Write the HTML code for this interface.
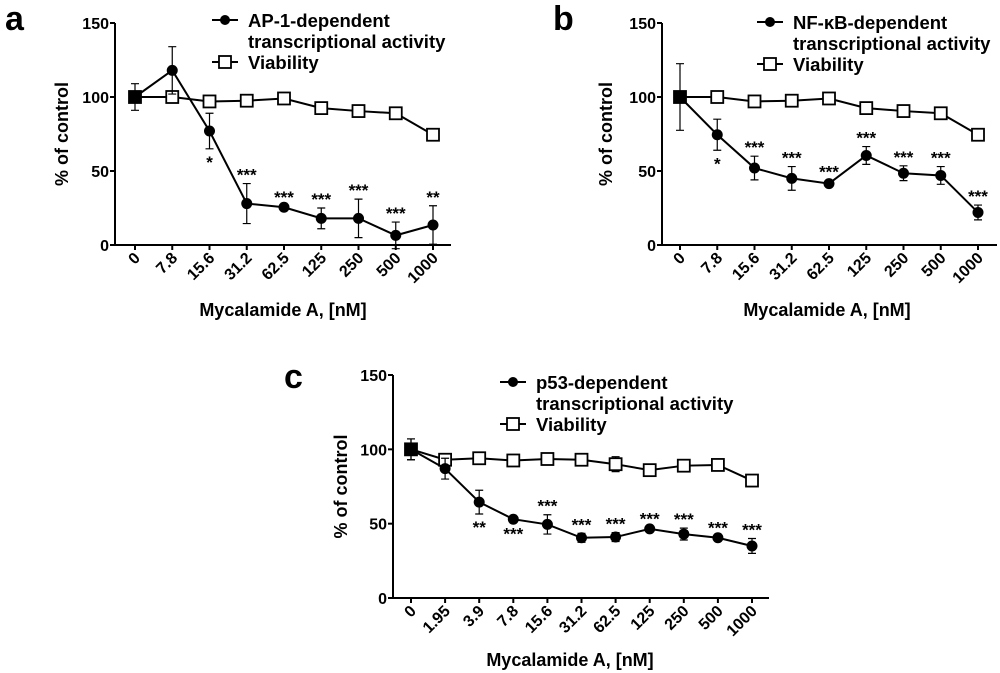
<!DOCTYPE html>
<html><head><meta charset="utf-8"><style>
body{margin:0;background:#fff;}
svg{display:block;font-family:"Liberation Sans",Arial,sans-serif;font-weight:bold;}
</style></head><body>
<svg id="fig" width="1000" height="673" viewBox="0 0 1000 673"></svg>
<script>
const catsAB = ["0","7.8","15.6","31.2","62.5","125","250","500","1000"];
const catsC = ["0","1.95","3.9","7.8","15.6","31.2","62.5","125","250","500","1000"];
const yTicks = [0,50,100,150];
const ap1Vals = [100,118,77,28,25.5,18,18,6.5,13.5];
const ap1Err = [9,16,12,13.5,1,7,13,9,13];
const ap1Stars = ["","","*","***","***","***","***","***","**"];
const ap1StarBelow = [0,0,1,0,0,0,0,0,0];
const violAVals = [100,100,97,97.5,99,92.5,90.5,89,74.5];
const violAErr = [0,0,0,0,0,0,0,0,0];
const nfVals = [100,74.5,52,45,41.5,60.5,48.5,47,22];
const nfErr = [22.5,10.5,8,8,2,6,5,6,5];
const nfStars = ["","*","***","***","***","***","***","***","***"];
const nfStarBelow = [0,1,0,0,0,0,0,0,0];
const violBVals = [100,100,97,97.5,99,92.5,90.5,89,74.5];
const violBErr = [0,0,0,0,0,0,0,0,0];
const p53Vals = [100,87,64.5,53,49.5,40.5,41,46.5,43,40.5,35];
const p53Err = [7,7,8,1,6.5,3,3,1,4,1,5];
const p53Stars = ["","","**","***","***","***","***","***","***","***","***"];
const p53StarBelow = [0,0,1,1,0,0,0,0,0,0,0];
const violCVals = [100,93,94,92.5,93.5,93,90,86,89,89.5,79];
const violCErr = [7,4,4,1,1,1,5,1,1,1,4];

const NS="http://www.w3.org/2000/svg";
const svg=document.getElementById('fig');
function mk(tag,attrs,parent,txt){const e=document.createElementNS(NS,tag);for(const k in attrs)e.setAttribute(k,attrs[k]);if(txt!==undefined)e.textContent=txt;(parent||svg).appendChild(e);return e;}

function panel(o){
  const g=mk('g',{});
  
  
  const y=v=>o.y0+(o.y150-o.y0)*v/150;
  const x=i=>o.c0+(o.c1-o.c0)*i/(o.cats.length-1);
  const lbl=mk('text',{x:o.lx,y:o.ly,'font-size':34},g,o.letter);
  
  
  const ya=mk('line',{x1:o.ax,y1:o.y0,x2:o.ax,y2:o.y150,stroke:'#000','stroke-width':2},g);
  
  
  const xa=mk('line',{x1:o.ax,y1:o.y0,x2:o.xend,y2:o.y0,stroke:'#000','stroke-width':2},g);
  
  
  yTicks.forEach(t=>{
    mk('line',{x1:o.ax-5,y1:y(t),x2:o.ax,y2:y(t),stroke:'#000','stroke-width':2},g);
    const tl=mk('text',{x:o.ax-6,y:y(t)+6,'font-size':16,'text-anchor':'end'},g,t);
    
    
  });
  o.cats.forEach((c,i)=>{
    mk('line',{x1:x(i),y1:o.y0,x2:x(i),y2:o.y0+5,stroke:'#000','stroke-width':2},g);
    const tl=mk('text',{x:0,y:0,'font-size':16,'text-anchor':'end',transform:`translate(${x(i)+6},${o.y0+14}) rotate(-45)`},g,c);
    
    
  });
  const yt=mk('text',{x:0,y:0,'font-size':18,'text-anchor':'middle',transform:`translate(${o.ytx},${(o.y0+o.y150)/2}) rotate(-90)`},g,'% of control');
  
  
  const xt=mk('text',{x:o.xtx,y:o.xty,'font-size':18,'text-anchor':'middle'},g,'Mycalamide A, [nM]');
  
  
  const eb=(vals,err,nm)=>vals.forEach((v,i)=>{if(!err[i])return;
    const e=mk('path',{d:`M${x(i)},${y(v-err[i])}V${y(v+err[i])}M${x(i)-4},${y(v-err[i])}h8M${x(i)-4},${y(v+err[i])}h8`,stroke:'#000','stroke-width':1.2,fill:'none'},g);
    
    });
  eb(o.vv,o.ve,'viability-error-bar');
  const vl=mk('polyline',{points:o.vv.map((v,i)=>x(i)+','+y(v)).join(' '),fill:'none',stroke:'#000','stroke-width':2},g);
  
  
  o.vv.forEach((v,i)=>{const r=mk('rect',{x:x(i)-6,y:y(v)-6,width:12,height:12,fill:i==0?'#000':'#fff',stroke:'#000','stroke-width':1.8},g);
    
    });
  eb(o.av,o.ae,'activity-error-bar');
  const al=mk('polyline',{points:o.av.map((v,i)=>x(i)+','+y(v)).join(' '),fill:'none',stroke:'#000','stroke-width':2},g);
  
  
  o.av.forEach((v,i)=>{const c=mk('circle',{cx:x(i),cy:y(v),r:5.5,fill:'#000'},g);
    
    });
  o.stars.forEach((s,i)=>{if(!s)return;
    const sy=o.below[i]?y(o.av[i]-o.ae[i])+19:y(o.av[i]+o.ae[i])-3;
    const t=mk('text',{x:x(i),y:sy,'font-size':17,'text-anchor':'middle'},g,s);
    
    });
  const lg=mk('g',{},g);
  
  
  mk('line',{x1:o.gx,y1:o.gy,x2:o.gx+26,y2:o.gy,stroke:'#000','stroke-width':2},lg);
  mk('circle',{cx:o.gx+13,cy:o.gy,r:5,fill:'#000'},lg);
  mk('text',{x:o.gx+36,y:o.gy+7,'font-size':18.5},lg,o.leg1);
  mk('text',{x:o.gx+36,y:o.gy+28,'font-size':18.5},lg,'transcriptional activity');
  mk('line',{x1:o.gx,y1:o.gy+42,x2:o.gx+26,y2:o.gy+42,stroke:'#000','stroke-width':2},lg);
  mk('rect',{x:o.gx+7,y:o.gy+36,width:12,height:12,fill:'#fff',stroke:'#000','stroke-width':1.8},lg);
  mk('text',{x:o.gx+36,y:o.gy+49,'font-size':18.5},lg,'Viability');
}
panel({name:'panel-a',letter:'a',lx:5,ly:30,ax:115,xend:451,y0:245,y150:23,c0:135,c1:433,cats:catsAB,
  ytx:68,xtx:283,xty:316,av:ap1Vals,ae:ap1Err,stars:ap1Stars,below:ap1StarBelow,vv:violAVals,ve:violAErr,
  gx:212,gy:20,leg1:'AP-1-dependent'});
panel({name:'panel-b',letter:'b',lx:553,ly:30,ax:662,xend:997,y0:245,y150:23,c0:680,c1:978,cats:catsAB,
  ytx:612,xty:316,xtx:827,av:nfVals,ae:nfErr,stars:nfStars,below:nfStarBelow,vv:violBVals,ve:violBErr,
  gx:757,gy:22,leg1:'NF-κB-dependent'});
panel({name:'panel-c',letter:'c',lx:284,ly:388,ax:393,xend:769,y0:598,y150:375,c0:411,c1:752,cats:catsC,
  ytx:347,xty:666,xtx:570,av:p53Vals,ae:p53Err,stars:p53Stars,below:p53StarBelow,vv:violCVals,ve:violCErr,
  gx:500,gy:382,leg1:'p53-dependent'});
</script>
</body></html>
